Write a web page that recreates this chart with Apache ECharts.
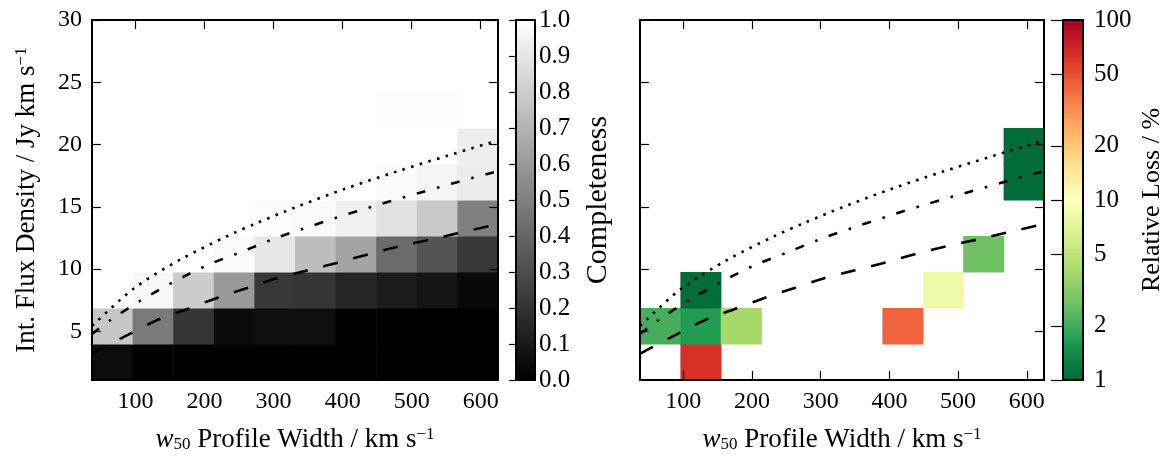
<!DOCTYPE html>
<html>
<head>
<meta charset="utf-8">
<title>Completeness and relative loss</title>
<script src="https://cdn.jsdelivr.net/npm/echarts@6/dist/echarts.min.js"></script>
<style>
  html, body { margin: 0; padding: 0; background: #ffffff; }
  #chart { width: 1168px; height: 462px; }
</style>
</head>
<body>
<div id="chart"></div>
<script>
// Bin edges: w50 profile width (km/s) and integrated flux density (Jy km/s)
const widthEdges = [37, 95.8, 154.6, 213.4, 272.2, 331, 389.8, 448.6, 507.4, 566.2, 625];
const fluxEdges = [1.1, 3.99, 6.88, 9.77, 12.66, 15.55, 18.44, 21.33, 24.22, 27.11, 30];

// Completeness, one row per flux bin (lowest first), one value per width bin
const completeness = [
  [0.05, 0.00, 0.00, 0.00, 0.00, 0.00, 0.00, 0.00, 0.00, 0.00],
  [0.78, 0.48, 0.21, 0.04, 0.06, 0.06, 0.00, 0.00, 0.00, 0.00],
  [1.00, 0.97, 0.80, 0.60, 0.22, 0.21, 0.145, 0.11, 0.08, 0.035],
  [1.00, 1.00, 1.00, 0.98, 0.90, 0.74, 0.64, 0.42, 0.33, 0.22],
  [1.00, 1.00, 1.00, 1.00, 0.99, 0.98, 0.945, 0.885, 0.79, 0.50],
  [1.00, 1.00, 1.00, 1.00, 1.00, 1.00, 1.00, 0.985, 0.96, 0.925],
  [1.00, 1.00, 1.00, 1.00, 1.00, 1.00, 1.00, 1.00, 1.00, 0.93],
  [1.00, 1.00, 1.00, 1.00, 1.00, 1.00, 1.00, 0.99, 0.99, 1.00],
  [1.00, 1.00, 1.00, 1.00, 1.00, 1.00, 1.00, 1.00, 1.00, 1.00],
  [1.00, 1.00, 1.00, 1.00, 1.00, 1.00, 1.00, 1.00, 1.00, 1.00]
];

// Relative loss (%) in the bins where sources were lost: [width bin, flux bin, loss]
const lossCells = [
  [0, 1, 2.06],
  [1, 0, 63],
  [1, 1, 1.66],
  [1, 2, 1.05],
  [2, 1, 4.0],
  [6, 1, 43],
  [7, 2, 8.3],
  [8, 3, 2.7],
  [9, 5, 1.04],
  [9, 6, 1.04]
];

// Limit curves: flux density against w50
const dottedW = [37, 41, 98, 164, 233, 275, 332, 404, 478, 552, 611, 625];
const dottedS = [5.44, 5.66, 8.47, 10.74, 12.66, 13.68, 14.97, 16.46, 17.83, 19.11, 20.1, 20.3];
const dashDotW = [37, 64, 109, 156, 205, 254, 305, 356, 408, 459, 512, 563, 615, 625];
const dashDotS = [4.8, 5.92, 7.53, 9.0, 10.34, 11.4, 12.53, 13.49, 14.43, 15.29, 16.14, 16.94, 17.72, 17.87];
const dashedW = [37, 48, 89, 131, 174, 218, 262, 305, 350, 395, 439, 485, 530, 575, 615, 625];
const dashedS = [3.2, 3.54, 4.72, 5.9, 6.78, 7.69, 8.49, 9.27, 9.91, 10.55, 11.22, 11.86, 12.4, 12.99, 13.49, 13.6];

// Tick labels
const widthTicks = [100, 200, 300, 400, 500, 600];
const fluxTicks = [5, 10, 15, 20, 25, 30];
const completenessTicks = [0, 0.1, 0.2, 0.3, 0.4, 0.5, 0.6, 0.7, 0.8, 0.9, 1.0];
const lossTicks = [1, 2, 5, 10, 20, 50, 100];

const FONT = 'Liberation Serif';
const TICK_SIZE = 24;
const TITLE_SIZE = 27;
const grayRamp = ['#000000', '#ffffff'];
const rdYlGnR = ['#006837', '#1a9850', '#66bd63', '#a6d96a', '#d9ef8b', '#ffffbf',
                 '#fee08b', '#fdae61', '#f46d43', '#d73027', '#a50026'];

// Cell records: [w0, w1, s0, s1, colour value, raw value]
const completenessData = [];
completeness.forEach((row, j) => {
  row.forEach((v, i) => {
    completenessData.push([widthEdges[i], widthEdges[i + 1], fluxEdges[j], fluxEdges[j + 1], v, v]);
  });
});
const lossData = lossCells.map(([i, j, v]) =>
  [widthEdges[i], widthEdges[i + 1], fluxEdges[j], fluxEdges[j + 1], Math.log10(v), v]);

const pairs = (xs, ys) => xs.map((x, k) => [x, ys[k]]);

function renderCell(params, api) {
  const p0 = api.coord([api.value(0), api.value(2)]);
  const p1 = api.coord([api.value(1), api.value(3)]);
  return {
    type: 'rect',
    shape: { x: p0[0], y: p1[1], width: p1[0] - p0[0] + 0.6, height: p0[1] - p1[1] + 0.6 },
    style: { fill: api.visual('color') }
  };
}

function colorbarRenderer(colors) {
  return function (params, api) {
    const cs = params.coordSys;
    const stops = colors.map((c, k) => ({ offset: k / (colors.length - 1), color: c }));
    return {
      type: 'group',
      children: [
        {
          type: 'rect',
          shape: { x: cs.x, y: cs.y, width: cs.width, height: cs.height },
          style: { fill: new echarts.graphic.LinearGradient(0, 1, 0, 0, stops) }
        },
        {
          type: 'rect',
          shape: { x: cs.x, y: cs.y, width: cs.width, height: cs.height },
          style: { fill: null, stroke: '#000', lineWidth: 2 }
        }
      ]
    };
  };
}

const supRich = {
  it: { fontFamily: FONT, fontStyle: 'italic', fontSize: TITLE_SIZE, color: '#000' },
  sub: { fontFamily: FONT, fontSize: 17, color: '#000', verticalAlign: 'bottom', lineHeight: 12 },
  sup: { fontFamily: FONT, fontSize: 17, color: '#000', verticalAlign: 'top', lineHeight: 14 }
};

const frameLine = { show: true, onZero: false, lineStyle: { color: '#000', width: 2 } };
const tickIn = { show: true, inside: true, length: 9, lineStyle: { color: '#000', width: 1.2 } };

function widthAxes(gridIndex) {
  return [
    {
      type: 'value', gridIndex, position: 'bottom', min: 37, max: 625, z: 5,
      axisLine: frameLine,
      axisTick: Object.assign({ customValues: widthTicks }, tickIn),
      axisLabel: { customValues: widthTicks, fontFamily: FONT, fontSize: TICK_SIZE, color: '#000', margin: 10 },
      splitLine: { show: false },
      name: '{it|w}{sub|50} Profile Width / km s{sup|−1}',
      nameLocation: 'middle', nameGap: 46,
      nameTextStyle: { fontFamily: FONT, fontSize: TITLE_SIZE, color: '#000', rich: supRich }
    },
    {
      type: 'value', gridIndex, position: 'top', min: 37, max: 625, z: 5,
      axisLine: frameLine,
      axisTick: Object.assign({ customValues: widthTicks }, tickIn),
      axisLabel: { show: false },
      splitLine: { show: false }
    }
  ];
}

function fluxAxes(gridIndex, withLabels) {
  const left = {
    type: 'value', gridIndex, position: 'left', min: 1.1, max: 30, z: 5,
    axisLine: frameLine,
    axisTick: Object.assign({ customValues: fluxTicks }, tickIn),
    axisLabel: withLabels
      ? { customValues: fluxTicks, fontFamily: FONT, fontSize: TICK_SIZE, color: '#000', margin: 10 }
      : { show: false },
    splitLine: { show: false }
  };
  if (withLabels) {
    left.name = 'Int. Flux Density / Jy km s{sup|−1}';
    left.nameLocation = 'middle';
    left.nameGap = 52;
    left.nameTextStyle = { fontFamily: FONT, fontSize: TITLE_SIZE, color: '#000', rich: supRich };
  }
  return [
    left,
    {
      type: 'value', gridIndex, position: 'right', min: 1.1, max: 30, z: 5,
      axisLine: frameLine,
      axisTick: Object.assign({ customValues: fluxTicks }, tickIn),
      axisLabel: { show: false },
      splitLine: { show: false }
    }
  ];
}

function limitLines(xAxisIndex, yAxisIndex) {
  const base = {
    type: 'line', xAxisIndex, yAxisIndex, showSymbol: false, silent: true,
    smooth: 0.3, clip: true, z: 3, animation: false
  };
  return [
    Object.assign({}, base, {
      data: pairs(dottedW, dottedS),
      lineStyle: { color: '#000', width: 2.6, type: [2.6, 6.4], cap: 'butt' }
    }),
    Object.assign({}, base, {
      data: pairs(dashDotW, dashDotS),
      lineStyle: { color: '#000', width: 2.6, type: [9, 12, 2.6, 12], cap: 'butt' }
    }),
    Object.assign({}, base, {
      data: pairs(dashedW, dashedS),
      lineStyle: { color: '#000', width: 2.6, type: [15, 16], cap: 'butt' }
    })
  ];
}

const chart = echarts.init(document.getElementById('chart'), null, { renderer: 'canvas' });

const option = {
  animation: false,
  backgroundColor: '#ffffff',
  textStyle: { fontFamily: FONT },
  grid: [
    { left: 92, top: 20, width: 406, height: 360 },
    { left: 640, top: 20, width: 404, height: 360 },
    { left: 516, top: 20, width: 19, height: 360 },
    { left: 1063, top: 20, width: 20, height: 360 }
  ],
  xAxis: [
    ...widthAxes(0),
    ...widthAxes(1),
    { type: 'value', gridIndex: 2, min: 0, max: 1, show: false },
    { type: 'value', gridIndex: 3, min: 0, max: 1, show: false }
  ],
  yAxis: [
    ...fluxAxes(0, true),
    ...fluxAxes(1, false),
    {
      type: 'value', gridIndex: 2, position: 'right', min: 0, max: 1, z: 5,
      axisLine: { show: false },
      axisTick: { show: true, inside: true, length: 7, customValues: completenessTicks, lineStyle: { color: '#000', width: 1.2 } },
      axisLabel: {
        customValues: completenessTicks, fontFamily: FONT, fontSize: 25, color: '#000', margin: 4,
        formatter: v => Number(v).toFixed(1)
      },
      splitLine: { show: false },
      name: 'Completeness', nameLocation: 'middle', nameRotate: 90, nameGap: 48,
      nameTextStyle: { fontFamily: FONT, fontSize: 30, color: '#000' }
    },
    {
      type: 'value', gridIndex: 3, position: 'right', min: 0, max: 2, z: 5,
      axisLine: { show: false },
      axisTick: { show: true, inside: true, length: 12, customValues: lossTicks.map(v => Math.log10(v)), lineStyle: { color: '#000', width: 1.2 } },
      axisLabel: {
        customValues: lossTicks.map(v => Math.log10(v)), fontFamily: FONT, fontSize: 25, color: '#000', margin: 11,
        formatter: v => String(Math.round(Math.pow(10, v)))
      },
      splitLine: { show: false },
      name: 'Relative Loss / %', nameLocation: 'middle', nameRotate: 90, nameGap: 56,
      nameTextStyle: { fontFamily: FONT, fontSize: 26, color: '#000' }
    }
  ],
  visualMap: [
    {
      type: 'continuous', show: false, seriesIndex: 0, dimension: 4,
      min: 0, max: 1, inRange: { color: grayRamp }
    },
    {
      type: 'continuous', show: false, seriesIndex: 4, dimension: 4,
      min: 0, max: 2, inRange: { color: rdYlGnR }
    }
  ],
  series: [
    {
      type: 'custom', xAxisIndex: 0, yAxisIndex: 0, renderItem: renderCell,
      data: completenessData, encode: { x: [0, 1], y: [2, 3] }, silent: true, z: 1
    },
    ...limitLines(0, 0),
    {
      type: 'custom', xAxisIndex: 2, yAxisIndex: 2, renderItem: renderCell,
      data: lossData, encode: { x: [0, 1], y: [2, 3] }, silent: true, z: 1
    },
    ...limitLines(2, 2),
    {
      type: 'custom', xAxisIndex: 4, yAxisIndex: 4, renderItem: colorbarRenderer(grayRamp),
      data: [[0, 0]], silent: true, z: 1
    },
    {
      type: 'custom', xAxisIndex: 5, yAxisIndex: 5, renderItem: colorbarRenderer(rdYlGnR),
      data: [[0, 0]], silent: true, z: 1
    }
  ]
};

chart.setOption(option);
</script>
</body>
</html>
